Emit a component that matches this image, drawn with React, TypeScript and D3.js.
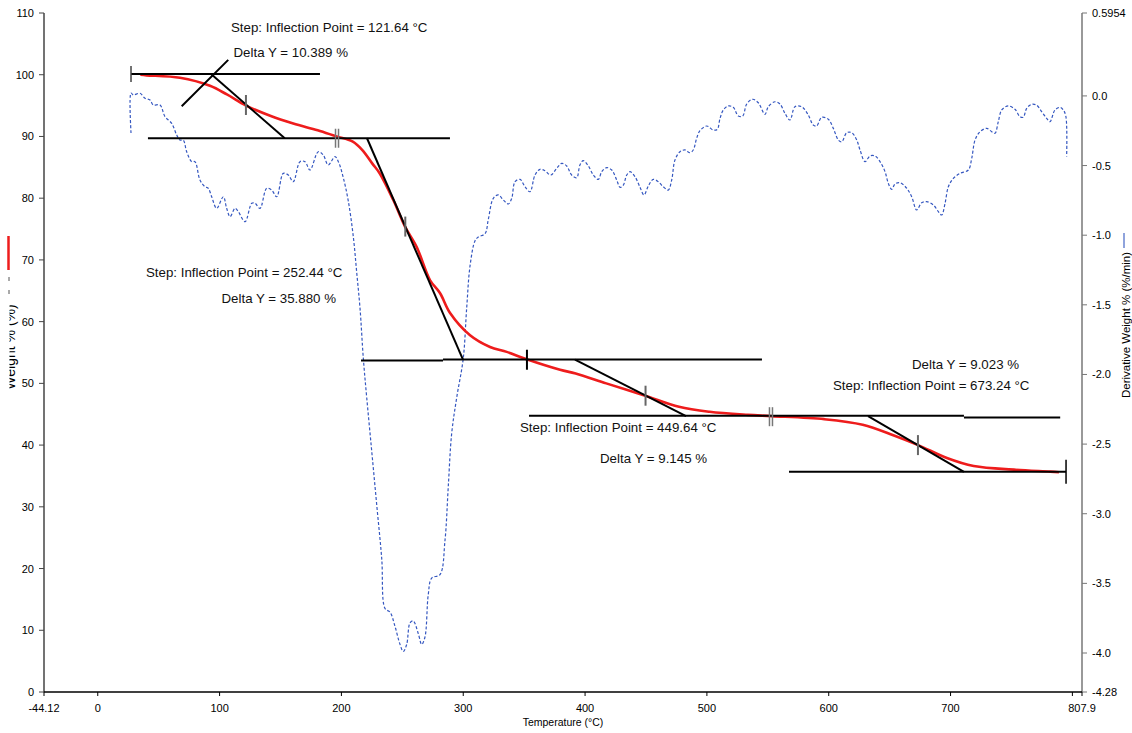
import React from 'react';
import * as d3 from 'd3';

// ---------- axis ticks ----------
const tempTicks = [-44.12, 0, 100, 200, 300, 400, 500, 600, 700, 800, 807.9];
const tempTickLabels = ['-44.12', '0', '100', '200', '300', '400', '500', '600', '700', '', '807.9'];
const weightTicks = [0, 10, 20, 30, 40, 50, 60, 70, 80, 90, 100, 110];
const derivTicks = [0.5954, 0, -0.5, -1.0, -1.5, -2.0, -2.5, -3.0, -3.5, -4.0, -4.28];
const derivTickLabels = ['0.5954', '0.0', '-0.5', '-1.0', '-1.5', '-2.0', '-2.5', '-3.0', '-3.5', '-4.0', '-4.28'];

// ---------- weight % curve ----------
const weightTemps = [35, 40.1, 67.5, 92.1, 106, 121.7, 141, 160.5, 180.5, 196.1, 209, 217.2, 225.4, 231.5, 242.6, 252.2, 261.8, 272.8, 281, 289.2, 305.6, 322, 335.7, 352.1, 379.5, 392.3, 417.4, 449.4, 477.1, 502.2, 533.6, 552.5, 596.4, 627.9, 653, 673.4, 697, 719, 753.6, 781.8, 789];
const weightValues = [100.0, 99.9, 99.5, 98.2, 96.8, 95.0, 93.4, 92.1, 91.0, 90.0, 89.2, 87.8, 85.6, 84.0, 79.7, 75.4, 72.1, 66.7, 64.6, 61.4, 57.8, 55.9, 55.1, 53.9, 52.2, 51.6, 50.0, 48.0, 46.2, 45.4, 44.9, 44.7, 44.2, 43.3, 41.6, 40.0, 37.9, 36.6, 36.0, 35.7, 35.6];

// ---------- derivative weight curve ----------
const derivTemps = [27.3, 27.3, 29.2, 34.7, 38.8, 42.9, 45.6, 51.1, 55.2, 60.7, 64.8, 67.5, 70.2, 73.0, 77.1, 79.8, 83.9, 88.0, 90.7, 93.5, 97.6, 103.1, 105.8, 108.6, 112.7, 115.4, 120.9, 126.4, 129.1, 133.2, 138.7, 142.8, 146.9, 152.3, 156.4, 160.5, 166.0, 170.1, 174.2, 181.0, 185.1, 189.2, 194.7, 197.5, 201.6, 205.7, 209.8, 212.6, 215.3, 218.0, 220.8, 224.9, 229.0, 233.1, 235.8, 239.9, 244.0, 248.1, 250.8, 253.6, 256.3, 259.0, 263.1, 265.9, 268.6, 271.3, 274.1, 280.9, 285.0, 287.7, 290.5, 294.6, 300.0, 302.8, 305.6, 309.7, 312.4, 317.9, 320.6, 324.7, 328.8, 332.9, 337.0, 339.8, 342.5, 346.6, 350.7, 354.8, 358.9, 363.0, 367.1, 371.8, 376.7, 380.8, 384.9, 389.0, 393.1, 395.8, 398.5, 402.7, 406.8, 410.9, 413.7, 417.8, 421.9, 426.0, 428.7, 431.4, 434.2, 436.9, 441.0, 445.1, 448.4, 451.9, 456.0, 460.1, 464.2, 468.3, 471.1, 473.8, 477.9, 482.0, 486.1, 488.8, 491.6, 494.3, 499.8, 505.3, 508.5, 510.8, 513.5, 517.6, 521.7, 525.8, 529.4, 532.7, 537.6, 542.2, 547.7, 550.4, 555.9, 560.0, 564.1, 568.2, 572.3, 577.8, 583.2, 587.3, 590.1, 594.2, 599.7, 603.8, 607.9, 610.7, 614.8, 618.9, 623.0, 625.7, 629.8, 633.9, 638.0, 642.1, 646.2, 648.9, 651.7, 654.4, 658.5, 664.0, 668.1, 672.2, 676.3, 680.4, 685.9, 690.0, 692.7, 695.5, 698.2, 702.3, 707.8, 714.6, 717.4, 720.1, 724.2, 729.7, 733.8, 736.5, 739.2, 742.0, 747.4, 752.9, 757.0, 759.7, 762.5, 766.6, 770.7, 774.8, 778.9, 781.6, 785.7, 789.9, 792.6, 794.7, 795.3];
const derivValues = [-0.266, 0.021, 0.007, 0.019, -0.017, -0.029, -0.065, -0.065, -0.149, -0.197, -0.281, -0.317, -0.317, -0.401, -0.472, -0.472, -0.604, -0.652, -0.663, -0.724, -0.807, -0.724, -0.807, -0.867, -0.807, -0.831, -0.903, -0.771, -0.771, -0.807, -0.663, -0.676, -0.724, -0.556, -0.568, -0.616, -0.472, -0.472, -0.532, -0.401, -0.424, -0.496, -0.436, -0.472, -0.589, -0.757, -1.013, -1.271, -1.527, -1.886, -2.168, -2.552, -2.937, -3.322, -3.681, -3.706, -3.809, -3.938, -3.989, -3.938, -3.784, -3.770, -3.861, -3.938, -3.885, -3.579, -3.462, -3.437, -3.194, -2.808, -2.425, -2.168, -1.886, -1.527, -1.219, -1.040, -1.013, -0.989, -0.886, -0.735, -0.711, -0.747, -0.776, -0.735, -0.616, -0.599, -0.652, -0.688, -0.568, -0.527, -0.537, -0.568, -0.520, -0.484, -0.503, -0.568, -0.587, -0.496, -0.465, -0.503, -0.568, -0.599, -0.544, -0.515, -0.532, -0.604, -0.656, -0.640, -0.568, -0.544, -0.580, -0.656, -0.711, -0.647, -0.599, -0.616, -0.652, -0.676, -0.604, -0.460, -0.401, -0.388, -0.408, -0.388, -0.304, -0.250, -0.216, -0.245, -0.240, -0.161, -0.101, -0.072, -0.082, -0.144, -0.144, -0.058, -0.024, -0.049, -0.132, -0.077, -0.042, -0.058, -0.125, -0.173, -0.077, -0.077, -0.137, -0.209, -0.216, -0.154, -0.168, -0.233, -0.317, -0.329, -0.264, -0.264, -0.317, -0.388, -0.472, -0.431, -0.431, -0.472, -0.544, -0.627, -0.671, -0.632, -0.623, -0.663, -0.724, -0.819, -0.767, -0.759, -0.783, -0.831, -0.855, -0.771, -0.652, -0.592, -0.556, -0.532, -0.448, -0.317, -0.257, -0.233, -0.257, -0.268, -0.185, -0.101, -0.072, -0.096, -0.149, -0.153, -0.089, -0.060, -0.067, -0.113, -0.161, -0.185, -0.101, -0.082, -0.101, -0.149, -0.436];

// ---------- step analysis construction lines ----------
const baselineStartT = [27.3, 41.2, 216.1, 283.4, 354.0, 711.0, 567.4];
const baselineEndT = [182.4, 289.1, 283.4, 545.2, 711.0, 790.0, 794.8];
const baselineW = [100.1, 89.71, 53.7, 53.85, 44.75, 44.45, 35.67];

const tangentStartT = [93.0, 221.0, 391.7, 632.3];
const tangentEndT = [153.5, 299.8, 482.9, 711.0];
const tangentStartW = [100.1, 89.71, 53.83, 44.69];
const tangentEndW = [89.71, 53.83, 44.69, 35.67];

const onsetCrossT = [68.9, 107.1];
const onsetCrossW = [94.9, 102.4];

const inflectionT = [121.64, 252.44, 449.64, 673.24];
const inflectionW = [95.1, 75.4, 48.0, 40.0];

const doubleMarkerT = [196.4, 552.6];
const doubleMarkerW = [89.71, 44.6];
const blackMarkerT = [27.3, 352.3, 794.8];
const blackMarkerW = [100.1, 53.83, 35.67];

// ---------- annotation texts ----------
const annotationTexts = [
  'Step: Inflection Point = 121.64 °C',
  'Delta Y = 10.389 %',
  'Step: Inflection Point = 252.44 °C',
  'Delta Y = 35.880 %',
  'Step: Inflection Point = 449.64 °C',
  'Delta Y = 9.145 %',
  'Delta Y = 9.023 %',
  'Step: Inflection Point = 673.24 °C',
];
// layout (px) for the annotation texts: left x, vertical centre
const annotationX = [231, 233.5, 146, 221.5, 520, 600, 912, 833];
const annotationY = [27, 52, 272, 298, 427, 458, 364, 385];

const blackMarkerLen = [16, 20, 24];

export default function App() {
  const width = 1132;
  const height = 733;
  const x = d3.scaleLinear().domain([-44.12, 807.9]).range([44, 1082]);
  const yL = d3.scaleLinear().domain([0, 110]).range([692, 13]);
  const yR = d3.scaleLinear().domain([-4.28, 0.5954]).range([692, 13]);

  const weightLine = d3
    .line<number>()
    .x((_, i) => x(weightTemps[i]))
    .y((d) => yL(d))
    .curve(d3.curveCatmullRom.alpha(0.5));
  const derivLine = d3
    .line<number>()
    .x((_, i) => x(derivTemps[i]))
    .y((d) => yR(d))
    .curve(d3.curveCatmullRom.alpha(0.5));

  const font = 'Liberation Sans, Arial, sans-serif';

  return (
    <svg
      width={width}
      height={height}
      style={{ position: 'absolute', left: 0, top: 0, background: '#fff' }}
      fontFamily={font}
    >
      <defs>
        <clipPath id="leftTitleClip">
          <rect x={9.5} y={0} width={30} height={733} />
        </clipPath>
      </defs>
      <rect x={0} y={0} width={width} height={height} fill="#fff" />

      {/* derivative curve */}
      <path d={derivLine(derivValues) || ''} fill="none" stroke="#3557c0" strokeWidth={1.2} strokeDasharray="3 2" />

      {/* weight curve */}
      <path d={weightLine(weightValues) || ''} fill="none" stroke="#ee1c1c" strokeWidth={2.6} strokeLinejoin="round" />

      {/* baselines */}
      {baselineW.map((w, i) => (
        <line key={'b' + i} x1={x(baselineStartT[i])} x2={x(baselineEndT[i])} y1={yL(w)} y2={yL(w)} stroke="#000" strokeWidth={2} />
      ))}
      {/* tangents */}
      {tangentStartT.map((t, i) => (
        <line key={'t' + i} x1={x(t)} y1={yL(tangentStartW[i])} x2={x(tangentEndT[i])} y2={yL(tangentEndW[i])} stroke="#000" strokeWidth={2} />
      ))}
      {/* onset cross */}
      <line x1={x(onsetCrossT[0])} y1={yL(onsetCrossW[0])} x2={x(onsetCrossT[1])} y2={yL(onsetCrossW[1])} stroke="#000" strokeWidth={2} />

      {/* inflection markers */}
      {inflectionT.map((t, i) => (
        <line key={'i' + i} x1={x(t)} x2={x(t)} y1={yL(inflectionW[i]) - 10} y2={yL(inflectionW[i]) + 10} stroke="#666" strokeWidth={2} />
      ))}
      {/* double markers */}
      {doubleMarkerT.map((t, i) => (
        <g key={'d' + i}>
          <line x1={x(t) - 1.5} x2={x(t) - 1.5} y1={yL(doubleMarkerW[i]) - 9.5} y2={yL(doubleMarkerW[i]) + 9.5} stroke="#777" strokeWidth={1.5} />
          <line x1={x(t) + 1.5} x2={x(t) + 1.5} y1={yL(doubleMarkerW[i]) - 9.5} y2={yL(doubleMarkerW[i]) + 9.5} stroke="#777" strokeWidth={1.5} />
        </g>
      ))}
      {/* black markers */}
      {blackMarkerT.map((t, i) => (
        <line key={'m' + i} x1={x(t)} x2={x(t)} y1={yL(blackMarkerW[i]) - blackMarkerLen[i] / 2} y2={yL(blackMarkerW[i]) + blackMarkerLen[i] / 2} stroke={i === 0 ? '#444' : '#000'} strokeWidth={i === 1 ? 2 : 1.5} />
      ))}

      {/* annotations */}
      {annotationTexts.map((s, i) => (
        <text key={'a' + i} x={annotationX[i]} y={annotationY[i] + 4.7} fontSize={13.3} fill="#111">
          {s}
        </text>
      ))}

      {/* left axis */}
      <line x1={44} x2={44} y1={yL(110)} y2={yL(0)} stroke="#444" strokeWidth={1.5} />
      {weightTicks.map((t) => (
        <g key={'wl' + t}>
          <line x1={39} x2={44} y1={yL(t)} y2={yL(t)} stroke="#444" />
          <text x={34} y={yL(t) + 4} fontSize={11} textAnchor="end" fill="#000">
            {t}
          </text>
        </g>
      ))}

      {/* right axis */}
      <line x1={1082} x2={1082} y1={yR(0.5954)} y2={yR(-4.28)} stroke="#777" strokeWidth={1.5} />
      {derivTicks.map((t, i) => (
        <g key={'dr' + i}>
          <line x1={1082} x2={1087} y1={yR(t)} y2={yR(t)} stroke="#777" />
          <text x={1092} y={yR(t) + 4} fontSize={11} fill="#000">
            {derivTickLabels[i]}
          </text>
        </g>
      ))}

      {/* bottom axis */}
      <line x1={44} x2={1082} y1={692} y2={692} stroke="#000" strokeWidth={1.5} />
      {tempTicks.map((t, i) => (
        <g key={'tb' + i}>
          <line x1={x(t)} x2={x(t)} y1={692} y2={696} stroke="#000" />
          <text x={x(t)} y={712} fontSize={11} textAnchor="middle" fill="#000">
            {tempTickLabels[i]}
          </text>
        </g>
      ))}
      <text x={563} y={726} fontSize={10.5} textAnchor="middle" fill="#000">
        Temperature (°C)
      </text>

      {/* left axis title & legend */}
      <line x1={8.5} x2={8.5} y1={236} y2={270} stroke="#ee1c1c" strokeWidth={2.5} />
      <line x1={9} x2={9} y1={277} y2={297} stroke="#555" strokeWidth={1} strokeDasharray="4 9" />
      <g clipPath="url(#leftTitleClip)">
        <text transform="translate(15,347) rotate(-90)" fontSize={14} textAnchor="middle" fill="#000">
          Weight % (%)
        </text>
      </g>

      {/* right axis title & legend */}
      <line x1={1124} x2={1124} y1={233} y2={248} stroke="#8fa3dc" strokeWidth={2} />
      <text transform="translate(1130,325) rotate(-90)" fontSize={11.5} textAnchor="middle" fill="#000">
        Derivative Weight % (%/min)
      </text>
    </svg>
  );
}
